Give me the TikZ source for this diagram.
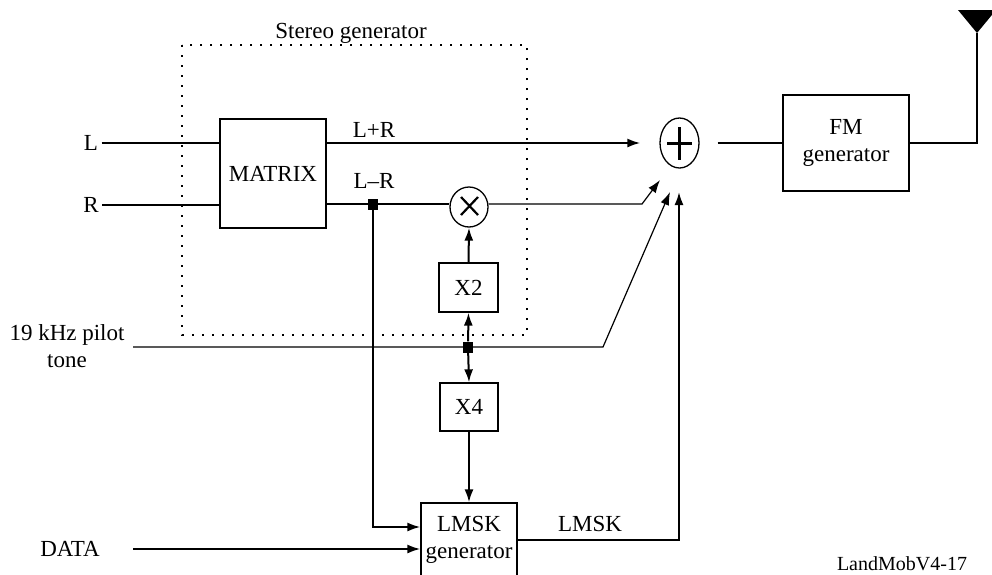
\documentclass[tikz,border=0pt]{standalone}
\usepackage{fontspec}
\setmainfont{Liberation Serif}
\usetikzlibrary{arrows.meta,shapes.geometric}
\tikzset{
  blk/.style={draw, line width=1.3pt, align=center, inner sep=0pt},
  sig/.style={line width=2pt},
  thinsig/.style={line width=1.2pt},
  tip/.style={-{Latex[length=13pt,width=9pt]}},
  junc/.style={fill, minimum width=10pt, minimum height=11pt, inner sep=0pt},
  opr/.style={ellipse, draw, line width=1.3pt, inner sep=0pt}
}
\begin{document}
\begin{tikzpicture}[x=1pt,y=-1pt,font=\fontsize{23}{27}\selectfont]
    \useasboundingbox (0,0) rectangle (992,574);
    % stereo generator frame
    \draw[line width=1.6pt, dash pattern=on 1.6pt off 8.4pt] (182,45) rectangle (527,335);
    \node[anchor=base] (SG) at (351,38) {Stereo generator};
    % blocks
    \node[blk, minimum width=106pt, minimum height=109pt] (MTX) at (273,173.5) {MATRIX};
    \node[blk, minimum width=126pt, minimum height=96pt] (FM) at (846,143) {FM\\generator};
    \node[blk, minimum width=59pt, minimum height=49pt] (X2) at (468.5,287.5) {X2};
    \node[blk, minimum width=58pt, minimum height=48pt] (X4) at (469,407) {X4};
    \node[blk, minimum width=96pt, minimum height=74pt] (LMSK) at (469,540) {LMSK\\generator};
    \node[opr, minimum width=39pt, minimum height=50pt] (SUM) at (679.5,143) {};
    \node[opr, minimum width=38pt, minimum height=40pt] (MULT) at (469,207) {};
    \draw[line width=3pt] (667,143) -- (692,143) (679.5,127) -- (679.5,160);
    \draw[line width=2.2pt] (461,197) -- (478,215) (461,215) -- (478,197);
    % inputs and labels
    \node (Lin) at (91,143) {L};
    \node (Rin) at (91,205) {R};
    \node[align=center] (PIL) at (67,346) {19 kHz pilot\\tone};
    \node (DATA) at (70,549) {DATA};
    \node[anchor=base] (LpR) at (374,137) {L+R};
    \node[anchor=base] (LmR) at (374,188) {L--R};
    \node (LMSKo) at (590,524) {LMSK};
    \node[anchor=base, font=\fontsize{20}{24}\selectfont] (FIG) at (902,570) {LandMobV4-17};
    % junctions and bends
    \node[junc] (J1) at (373,204) {};
    \node[junc] (J2) at (468,347) {};
    \coordinate (pIn) at (133,347);
    \coordinate (pBend) at (603,347);
    \coordinate (pTip) at (670,192);
    \coordinate (mBend) at (642,204);
    \coordinate (mTip) at (660,180);
    \coordinate (dIn) at (133,549);
    \coordinate (lBend) at (679,540);
    \coordinate (lTip) at (679,192);
    \coordinate (antB) at (977,143);
    \coordinate (ant) at (977,33);
    % connections
    \draw[sig] (Lin.east) -- (MTX.west |- Lin.east);
    \draw[sig] (Rin.east) -- (MTX.west |- Rin.east);
    \draw[sig, tip, shorten >=19pt] (MTX.east |- SUM.west) -- (SUM.west);
    \draw[sig] (MTX.east |- J1) -- (J1) -- (MULT.west |- J1);
    \draw[thinsig, tip] (MULT.east |- mBend) -- (mBend) -- (mTip);
    \draw[thinsig, tip] (pIn) -- (pBend) -- (pTip);
    \draw[sig, tip] (J2) -- (X2.south);
    \draw[sig, tip] (J2) -- (X4.north);
    \draw[sig, tip] (X2.north) -- (MULT.south);
    \draw[sig, tip] (X4.south) -- (LMSK.north);
    \draw[sig, tip] (J1) |- ([yshift=13pt]LMSK.west);
    \draw[sig, tip] (dIn) -- ([yshift=-9pt]LMSK.west);
    \draw[sig, tip] (LMSK.east) -- (lBend) -- (lTip);
    \draw[sig, shorten <=18pt] (SUM.east) -- (FM.west);
    \draw[thinsig] (FM.east) -- (antB) -- (ant);
    \fill (ant) -- (958,10) -- (996,10) -- cycle;
\end{tikzpicture}
\end{document}
